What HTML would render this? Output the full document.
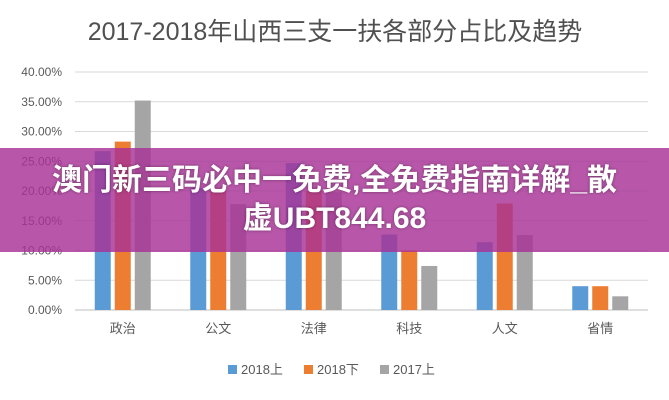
<!DOCTYPE html>
<html><head><meta charset="utf-8"><style>
body{margin:0;background:#fff;}
#wrap{position:relative;width:669px;height:400px;overflow:hidden;font-family:"Liberation Sans","Noto Sans CJK SC",sans-serif;}
#banner{position:absolute;left:0;top:148px;width:669px;height:104px;background:rgba(168,50,150,0.82);color:#fff;font-weight:bold;font-size:30px;text-align:center;line-height:38px;padding-top:14px;box-sizing:border-box;text-shadow:0 0 3px rgba(0,0,0,0.4);white-space:nowrap;}
</style></head><body>
<div id="wrap">
<svg id="chart" width="669" height="400"></svg>
<div id="banner">澳门新三码必中一免费,全免费指南详解_散<br>虚UBT844.68</div>
</div>
<script>
const categories=["政治","公文","法律","科技","人文","省情"];
const s2018up=[26.7,20.5,24.7,12.7,11.4,4.0];
const s2018down=[28.3,20.0,20.0,10.0,17.9,4.0];
const s2017up=[35.2,17.8,19.8,7.4,12.6,2.3];
const seriesNames=["2018上","2018下","2017上"];
const yTicks=[0,5,10,15,20,25,30,35,40];
const colors=["#5b9bd5","#ed7d31","#a5a5a5"];
const svg=document.getElementById('chart');
const NS="http://www.w3.org/2000/svg";
const L=75,R=648,T=72,B=310,yMax=40;
const y=v=>B-(v/yMax)*(B-T);
const gw=(R-L)/categories.length;
const xc=i=>L+gw*(i+0.5);
function mk(t,a,txt){const e=document.createElementNS(NS,t);for(const k in a)e.setAttribute(k,a[k]);if(txt!=null)e.textContent=txt;svg.appendChild(e);return e;}
let e=mk('text',{x:335,y:40,'text-anchor':'middle','font-size':25,fill:'#505050'},'2017-2018年山西三支一扶各部分占比及趋势');


yTicks.forEach(t=>{
 let g=mk('line',{x1:L,x2:R,y1:y(t),y2:y(t),stroke:t===0?'#bfbfbf':'#d9d9d9','stroke-width':1});
 
 
 let l=mk('text',{x:62,y:y(t)+4,'text-anchor':'end','font-size':12,fill:'#595959'},t.toFixed(2)+'%');
 
 
});
const series=[s2018up,s2018down,s2017up];
const bw=16,gap=4;
categories.forEach((c,i)=>{
 series.forEach((s,j)=>{
  const x=xc(i)+(j-1)*(bw+gap)-bw/2;
  let r=mk('rect',{x:x,y:y(s[i]),width:bw,height:B-y(s[i]),fill:colors[j]});
  
  
 });
 let t=mk('text',{x:xc(i),y:333,'text-anchor':'middle','font-size':13,fill:'#595959'},c);
 
 
});
const lx=[228,304,380];
seriesNames.forEach((n,j)=>{
 let r=mk('rect',{x:lx[j],y:365,width:9,height:9,fill:colors[j]});
 
 
 let t=mk('text',{x:lx[j]+13,y:374,'font-size':13,fill:'#595959'},n);
 
 
});
</script>
</body></html>
